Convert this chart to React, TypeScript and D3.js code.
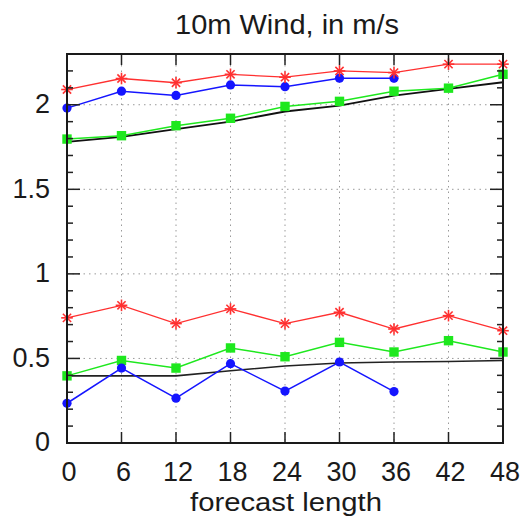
import React from "react";
import * as d3 from "d3";

const hours = [0, 6, 12, 18, 24, 30, 36, 42, 48];
const yTicks = [0, 0.5, 1, 1.5, 2];
const yTickLabels = ["0", "0.5", "1", "1.5", "2"];

const redUpper = [2.09, 2.155, 2.13, 2.18, 2.163, 2.2, 2.19, 2.24, 2.24];
const blueUpper = [1.98, 2.08, 2.055, 2.117, 2.107, 2.157, 2.157];
const greenUpper = [1.797, 1.817, 1.876, 1.92, 1.99, 2.02, 2.08, 2.098, 2.18];
const blackUpper = [1.78, 1.81, 1.856, 1.9, 1.96, 1.995, 2.054, 2.094, 2.133];

const redLower = [0.74, 0.814, 0.706, 0.793, 0.706, 0.773, 0.674, 0.753, 0.664];
const greenLower = [0.397, 0.488, 0.443, 0.562, 0.51, 0.595, 0.538, 0.605, 0.538];
const blueLower = [0.235, 0.443, 0.265, 0.469, 0.307, 0.479, 0.304];
const blackLower = [0.397, 0.397, 0.397, 0.427, 0.455, 0.473, 0.479, 0.482, 0.488];

const W = 525;
const H = 517;
const left = 67;
const right = 503;
const top = 54;
const bottom = 443;

const FONT = "'Liberation Sans', Arial, Helvetica, sans-serif";

type Series = { values: number[]; color: string; marker: "none" | "circle" | "square" | "star"; width: number };

const series: Series[] = [
  { values: blackUpper, color: "#111", marker: "none", width: 1.8 },
  { values: blackLower, color: "#222", marker: "none", width: 1.6 },
  { values: greenUpper, color: "#1ee81e", marker: "square", width: 1.5 },
  { values: greenLower, color: "#1ee81e", marker: "square", width: 1.5 },
  { values: blueUpper, color: "#1515ff", marker: "circle", width: 1.5 },
  { values: blueLower, color: "#1515ff", marker: "circle", width: 1.5 },
  { values: redUpper, color: "#ff3030", marker: "star", width: 1.3 },
  { values: redLower, color: "#ff3030", marker: "star", width: 1.3 },
];

export default function App() {
  const x = d3.scaleLinear().domain([0, 48]).range([left, right]);
  const y = d3.scaleLinear().domain([0, 2.3]).range([bottom, top]);
  const line = d3
    .line<[number, number]>()
    .x((d) => x(d[0]))
    .y((d) => y(d[1]));

  const minorTicks = d3.range(0, 23).map((i) => i / 10);

  const marker = (s: Series, h: number, v: number, k: string) => {
    const cx = x(h);
    const cy = y(v);
    if (s.marker === "circle") return <circle key={k} cx={cx} cy={cy} r={4.6} fill={s.color} />;
    if (s.marker === "square")
      return <rect key={k} x={cx - 4.7} y={cy - 4.7} width={9.4} height={9.4} fill={s.color} />;
    if (s.marker === "star") {
      const r = 5.8;
      const d = r * Math.SQRT1_2;
      return (
        <g key={k} stroke={s.color} strokeWidth={1.6}>
          <line x1={cx - r} y1={cy} x2={cx + r} y2={cy} />
          <line x1={cx} y1={cy - r} x2={cx} y2={cy + r} />
          <line x1={cx - d} y1={cy - d} x2={cx + d} y2={cy + d} />
          <line x1={cx - d} y1={cy + d} x2={cx + d} y2={cy - d} />
        </g>
      );
    }
    return null;
  };

  return (
    <svg
      width={W}
      height={H}
      style={{ position: "absolute", left: 0, top: 0, display: "block", background: "#fff" }}
    >
      {/* grid */}
      <g stroke="#9a9a9a" strokeWidth={1} strokeDasharray="1.5,4">
        {hours.slice(1, -1).map((h) => (
          <line key={"gx" + h} x1={x(h)} x2={x(h)} y1={top} y2={bottom} />
        ))}
        {yTicks.slice(1).map((v) => (
          <line key={"gy" + v} x1={left} x2={right} y1={y(v)} y2={y(v)} />
        ))}
      </g>

      {/* series */}
      {series.map((s, i) => (
        <g key={"s" + i}>
          <path
            d={line(s.values.map((v, j) => [hours[j], v] as [number, number])) || ""}
            fill="none"
            stroke={s.color}
            strokeWidth={s.width}
          />
          {s.values.map((v, j) => marker(s, hours[j], v, `m${i}-${j}`))}
        </g>
      ))}

      {/* ticks */}
      <g stroke="#222" strokeWidth={1.5}>
        {hours.map((h) => (
          <g key={"tx" + h}>
            <line x1={x(h)} x2={x(h)} y1={bottom} y2={bottom - 11} />
            <line x1={x(h)} x2={x(h)} y1={top} y2={top + 11} />
          </g>
        ))}
        {minorTicks.map((v, i) => {
          const len = i % 5 === 0 ? 13 : 6;
          return (
            <g key={"ty" + i}>
              <line x1={left} x2={left + len} y1={y(v)} y2={y(v)} />
              <line x1={right} x2={right - len} y1={y(v)} y2={y(v)} />
            </g>
          );
        })}
      </g>

      {/* frame */}
      <rect x={left} y={top} width={right - left} height={bottom - top} fill="none" stroke="#1a1a1a" strokeWidth={2} />

      {/* labels */}
      <g fontFamily={FONT} fontSize={27} fill="#1a1a1a">
        {hours.map((h) => (
          <text key={"lx" + h} x={x(h) + 2} y={481} textAnchor="middle">
            {String(h)}
          </text>
        ))}
        {yTicks.map((v, i) => (
          <text key={"ly" + v} x={50} y={y(v) - 1} dy="0.35em" textAnchor="end">
            {yTickLabels[i]}
          </text>
        ))}
      </g>
      <text
        x={287}
        y={34}
        textAnchor="middle"
        fontFamily={FONT}
        fontSize={27}
        textLength={224}
        lengthAdjust="spacingAndGlyphs"
        fill="#1a1a1a"
      >
        10m Wind, in m/s
      </text>
      <text
        x={286}
        y={511}
        textAnchor="middle"
        fontFamily={FONT}
        fontSize={26}
        textLength={192}
        lengthAdjust="spacingAndGlyphs"
        fill="#1a1a1a"
      >
        forecast length
      </text>
    </svg>
  );
}
